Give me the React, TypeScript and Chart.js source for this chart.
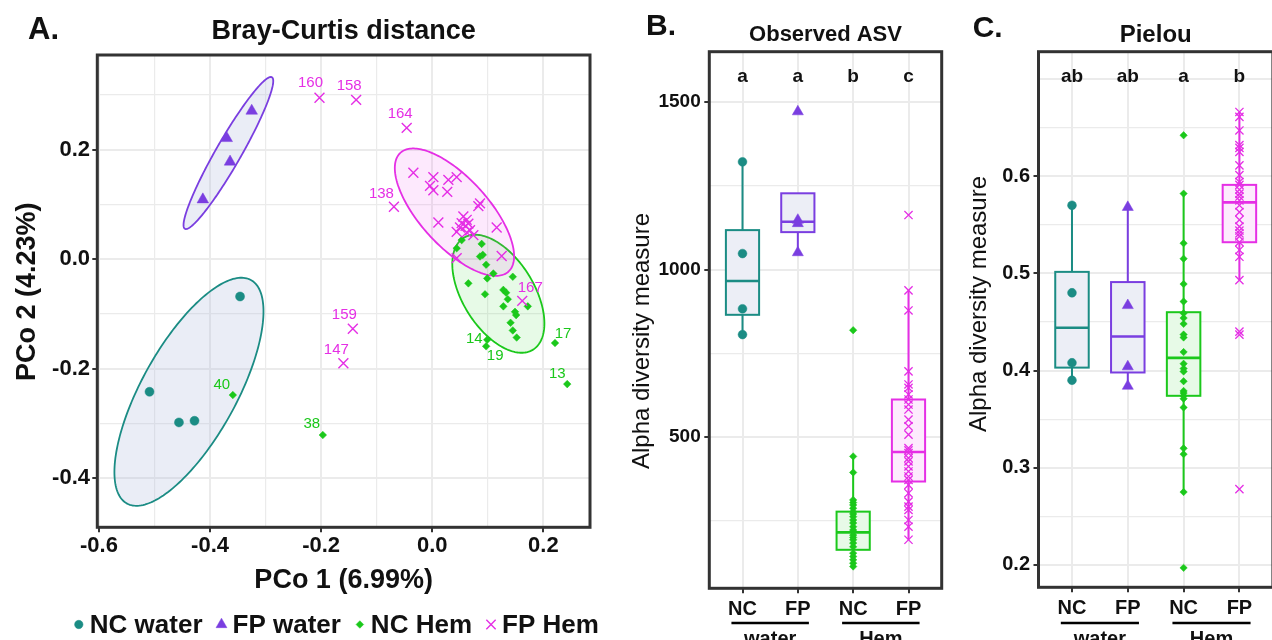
import React, { useEffect, useRef } from 'react';
import { Chart, registerables } from 'chart.js';
import { drawPoint } from 'chart.js/helpers';

Chart.register(...registerables);

const FONT = '"Liberation Sans", Arial, Helvetica, sans-serif';
const INK = '#111111';

// ---------------- groups ----------------
const groupNames = ['NC water', 'FP water', 'NC Hem', 'FP Hem'];
const groupTickLabels = ['NC', 'FP', 'NC', 'FP'];
const habitatNames = ['water', 'Hem'];
const groupColors = ['#1b8c84', '#7a3ee0', '#1bc81b', '#e52fe5'];
const groupShapes = ['circle', 'triangle', 'rectRot', 'crossRot'];

// ---------------- A: Bray-Curtis PCoA ----------------
const pcoXRange = [-0.603, 0.284];
const pcoYRange = [-0.4895, 0.373];

const pco1NcWater = [-0.346, -0.509, -0.456, -0.428];
const pco2NcWater = [-0.068, -0.242, -0.298, -0.295];
const idNcWater = ['', '', '', ''];

const pco1FpWater = [-0.325, -0.37, -0.364, -0.413];
const pco2FpWater = [0.271, 0.221, 0.178, 0.109];
const idFpWater = ['', '', '', ''];

const pco1NcHem = [0.044, 0.053, 0.089, 0.086, 0.091, 0.097, 0.11, 0.099, 0.065, 0.145, 0.128, 0.133, 0.136, 0.095, 0.128, 0.149, 0.151, 0.172, 0.141, 0.145, 0.152, 0.099, 0.097, 0.221, 0.243, -0.359, -0.197];
const pco2NcHem = [0.02, 0.035, 0.028, 0.005, 0.008, -0.01, -0.026, -0.035, -0.044, -0.032, -0.056, -0.061, -0.073, -0.064, -0.086, -0.096, -0.102, -0.086, -0.116, -0.13, -0.143, -0.147, -0.159, -0.153, -0.228, -0.248, -0.321];
const idNcHem = ['', '', '', '', '', '', '', '', '', '', '', '', '', '', '', '', '', '', '', '', '', '14', '19', '17', '13', '40', '38'];

const pco1FpHem = [-0.203, -0.137, -0.046, -0.069, -0.143, -0.16, 0.162, -0.034, 0.002, -0.004, 0.002, 0.029, 0.044, 0.027, 0.086, 0.083, 0.011, 0.056, 0.062, 0.053, 0.06, 0.044, 0.068, 0.062, 0.074, 0.116, 0.125, 0.044, 0.05, 0.065];
const pco2FpHem = [0.295, 0.291, 0.24, 0.096, -0.127, -0.19, -0.076, 0.158, 0.15, 0.134, 0.126, 0.145, 0.15, 0.123, 0.102, 0.097, 0.067, 0.078, 0.072, 0.066, 0.061, 0.05, 0.053, 0.049, 0.044, 0.058, 0.006, 0.002, 0.058, 0.065];
const idFpHem = ['160', '158', '164', '138', '159', '147', '167', '', '', '', '', '', '', '', '', '', '', '', '', '', '', '', '', '', '', '', '', '', '', ''];

// 95% ellipses (centre, semi-axes in axis units, angle in degrees)
const ellipseCenterX = [-0.438, -0.367, 0.119, 0.04];
const ellipseCenterY = [-0.242, 0.194, -0.063, 0.086];
const ellipseSemiMajor = [0.2326, 0.159, 0.1197, 0.1457];
const ellipseSemiMinor = [0.0853, 0.0227, 0.0645, 0.0619];
const ellipseAngleDeg = [61.4, 60.5, -58.9, -48.3];

// ---------------- B: Observed ASV ----------------
const asvRange = [48, 1651];
const asvNcWater = [1322, 1048, 883, 806];
const asvFpWater = [1472, 1148, 1138, 1051];
const asvNcHem = [819, 442, 394, 312, 304, 297, 287, 277, 270, 262, 252, 243, 232, 222, 217, 207, 200, 193, 183, 172, 153, 143, 133, 123, 113];
const asvFpHem = [1163, 938, 878, 696, 657, 647, 627, 612, 597, 582, 552, 532, 507, 467, 460, 452, 437, 427, 412, 397, 382, 372, 357, 332, 307, 292, 282, 252, 232, 193];
const asvQ1 = [865, 1112, 163, 367];
const asvMedian = [966, 1143, 215, 455];
const asvQ3 = [1118, 1228, 277, 612];
const asvWhiskerLow = [806, 1051, 113, 193];
const asvWhiskerHigh = [1322, 1148, 442, 938];
const asvLetters = ['a', 'a', 'b', 'c'];
const asvLetterLevel = 1575;

// ---------------- C: Pielou ----------------
const pielouRange = [0.177, 0.728];
const pielouNcWater = [0.57, 0.48, 0.408, 0.39];
const pielouFpWater = [0.568, 0.467, 0.404, 0.384];
const pielouNcHem = [0.642, 0.582, 0.531, 0.515, 0.489, 0.471, 0.459, 0.454, 0.448, 0.437, 0.434, 0.419, 0.407, 0.402, 0.399, 0.389, 0.379, 0.377, 0.374, 0.371, 0.362, 0.32, 0.314, 0.275, 0.197];
const pielouFpHem = [0.666, 0.661, 0.647, 0.632, 0.629, 0.625, 0.611, 0.601, 0.594, 0.591, 0.586, 0.582, 0.579, 0.575, 0.57, 0.563, 0.555, 0.548, 0.544, 0.541, 0.538, 0.532, 0.524, 0.517, 0.493, 0.44, 0.437, 0.278];
const pielouQ1 = [0.403, 0.398, 0.374, 0.532];
const pielouMedian = [0.444, 0.435, 0.413, 0.573];
const pielouQ3 = [0.5015, 0.491, 0.46, 0.591];
const pielouWhiskerLow = [0.39, 0.384, 0.275, 0.493];
const pielouWhiskerHigh = [0.57, 0.568, 0.582, 0.666];
const pielouLetters = ['ab', 'ab', 'a', 'b'];
const pielouLetterLevel = 0.702;

// ---------------- styling ----------------
const pcoPointRadius = [4.5, 6.7, 3.8, 7];
const boxPointRadius = [4.4, 6.4, 3.7, 5.8];
const legendRadius = [4.2, 6.3, 3.8, 6.6];
const ellipseFills = ['rgba(180,190,222,0.28)', 'rgba(180,190,222,0.28)', 'rgba(40,210,40,0.11)', 'rgba(236,70,236,0.12)'];
const boxFills = ['rgba(180,190,222,0.26)', 'rgba(180,190,222,0.26)', 'rgba(40,210,40,0.11)', 'rgba(236,70,236,0.11)'];
const sampleLabelOffset: Record<string, [number, number]> = {
  '160': [-9, -15], '158': [-7, -14], '164': [-6.5, -14], '138': [-12.5, -13],
  '159': [-8.5, -14], '147': [-7, -13], '167': [8, -13],
  '40': [-11, -10], '38': [-11, -11], '14': [-13, -1], '19': [9, 10], '17': [8, -9], '13': [-10, -10],
};

function drawText(ctx: CanvasRenderingContext2D, s: string, x: number, y: number, font: string, color: string,
  align: CanvasTextAlign = 'center', baseline: CanvasTextBaseline = 'alphabetic', rot = 0) {
  ctx.save();
  ctx.font = font;
  ctx.fillStyle = color;
  ctx.textAlign = align;
  ctx.textBaseline = baseline;
  ctx.translate(x, y);
  if (rot) ctx.rotate(rot);
  ctx.fillText(s, 0, 0);
  ctx.restore();
}

const near = (v: number, step: number) => Math.abs(v / step - Math.round(v / step)) < 1e-6;

function linearAxis(o: {
  min: number; max: number; step: number; size: number; horizontal: boolean;
  majorGrid: (v: number) => boolean; labelled: (v: number) => boolean; fmt: (v: number) => string;
  fontSize: number; pad: number;
}) {
  return {
    type: 'linear',
    min: o.min,
    max: o.max,
    afterFit: (s: any) => {
      if (o.horizontal) s.height = o.size; else s.width = o.size;
    },
    border: { display: false },
    grid: {
      color: '#ebebeb',
      lineWidth: (c: any) => (c.tick && o.majorGrid(c.tick.value) ? 2 : 1.2),
      tickColor: (c: any) => (c.tick && o.labelled(c.tick.value) ? '#333333' : 'rgba(0,0,0,0)'),
      tickLength: 5,
      tickWidth: 2,
    },
    ticks: {
      stepSize: o.step,
      includeBounds: false,
      autoSkip: false,
      maxRotation: 0,
      minRotation: 0,
      padding: o.pad,
      color: INK,
      font: { family: FONT, size: o.fontSize, weight: 'bold' },
      callback: (v: any) => (o.labelled(Number(v)) ? o.fmt(Number(v)) : ''),
    },
  };
}

function drawFrame(chart: any) {
  const { ctx, chartArea: a } = chart;
  ctx.save();
  ctx.strokeStyle = '#333333';
  ctx.lineWidth = 3;
  ctx.strokeRect(a.left, a.top, a.right - a.left, a.bottom - a.top);
  ctx.restore();
}

// ---------------- Panel A ----------------
function pcoaConfig() {
  const xs = [pco1NcWater, pco1FpWater, pco1NcHem, pco1FpHem];
  const ys = [pco2NcWater, pco2FpWater, pco2NcHem, pco2FpHem];
  const ids = [idNcWater, idFpWater, idNcHem, idFpHem];
  const datasets = groupNames.map((name, g) => ({
    label: name,
    data: xs[g].map((x, k) => ({ x, y: ys[g][k] })),
    pointStyle: groupShapes[g],
    pointRadius: pcoPointRadius[g],
    backgroundColor: groupColors[g],
    borderColor: groupColors[g],
    borderWidth: g === 3 ? 1.4 : 0.5,
    order: 3 - g,
    showLine: false,
  }));
  const plugin = {
    id: 'pcoaExtras',
    beforeDatasetsDraw(chart: any) {
      const { ctx, chartArea: a } = chart;
      const sx = chart.scales.x;
      const sy = chart.scales.y;
      ctx.save();
      ctx.beginPath();
      ctx.rect(a.left, a.top, a.right - a.left, a.bottom - a.top);
      ctx.clip();
      for (let g = 0; g < 4; g++) {
        const th = (ellipseAngleDeg[g] * Math.PI) / 180;
        ctx.beginPath();
        for (let k = 0; k <= 200; k++) {
          const t = (k / 200) * Math.PI * 2;
          const u = ellipseSemiMajor[g] * Math.cos(t);
          const w = ellipseSemiMinor[g] * Math.sin(t);
          const vx = ellipseCenterX[g] + u * Math.cos(th) - w * Math.sin(th);
          const vy = ellipseCenterY[g] + u * Math.sin(th) + w * Math.cos(th);
          const px = sx.getPixelForValue(vx);
          const py = sy.getPixelForValue(vy);
          if (k === 0) ctx.moveTo(px, py); else ctx.lineTo(px, py);
        }
        ctx.closePath();
        ctx.fillStyle = ellipseFills[g];
        ctx.fill();
        ctx.strokeStyle = groupColors[g];
        ctx.lineWidth = 1.8;
        ctx.stroke();
      }
      ctx.restore();
    },
    afterDatasetsDraw(chart: any) {
      const { ctx } = chart;
      const sx = chart.scales.x;
      const sy = chart.scales.y;
      for (let g = 0; g < 4; g++) {
        ids[g].forEach((id, k) => {
          if (!id) return;
          const off = sampleLabelOffset[id] || [0, -12];
          drawText(ctx, id, sx.getPixelForValue(xs[g][k]) + off[0], sy.getPixelForValue(ys[g][k]) + off[1],
            `15px ${FONT}`, groupColors[g], 'center', 'middle');
        });
      }
      drawFrame(chart);
    },
    afterDraw(chart: any) {
      const { ctx, chartArea: a } = chart;
      const mid = (a.left + a.right) / 2;
      drawText(ctx, 'A.', 28, 39, `bold 31px ${FONT}`, INK, 'left');
      drawText(ctx, 'Bray-Curtis distance', mid, 38.5, `bold 27px ${FONT}`, INK);
      drawText(ctx, 'PCo 1 (6.99%)', mid, 588, `bold 27px ${FONT}`, INK);
      drawText(ctx, 'PCo 2 (4.23%)', 35, 291.7, `bold 27px ${FONT}`, INK, 'center', 'alphabetic', -Math.PI / 2);
      // legend
      ctx.save();
      ctx.font = `bold 26px ${FONT}`;
      const gapMarker = 11;
      const gapItem = 19;
      const widths = groupNames.map((n) => ctx.measureText(n).width);
      const total = widths.reduce((s, w) => s + gapMarker + w, 0) + gapItem * 3;
      let x = 338.8 - total / 2;
      for (let g = 0; g < 4; g++) {
        ctx.fillStyle = groupColors[g];
        ctx.strokeStyle = groupColors[g];
        ctx.lineWidth = g === 3 ? 1.4 : 0.5;
        drawPoint(ctx, { pointStyle: groupShapes[g] as any, radius: legendRadius[g], rotation: 0, borderWidth: ctx.lineWidth } as any, x, 624.5);
        drawText(ctx, groupNames[g], x + gapMarker, 633, `bold 26px ${FONT}`, INK, 'left');
        x += gapMarker + widths[g] + gapItem;
      }
      ctx.restore();
    },
  };
  const fifth = (v: number) => near(v, 0.2);
  const fmt = (v: number) => (Math.abs(v) < 1e-9 ? '0.0' : v.toFixed(1));
  return {
    type: 'scatter',
    data: { datasets },
    options: {
      animation: false,
      responsive: false,
      maintainAspectRatio: false,
      events: [],
      layout: { padding: { left: 0, top: 55, right: 30, bottom: 0 } },
      plugins: { legend: { display: false }, tooltip: { enabled: false }, title: { display: false } },
      scales: {
        x: linearAxis({ min: pcoXRange[0], max: pcoXRange[1], step: 0.1, size: 112.7, horizontal: true, majorGrid: fifth, labelled: fifth, fmt, fontSize: 22, pad: 0 }),
        y: linearAxis({ min: pcoYRange[0], max: pcoYRange[1], step: 0.1, size: 97.3, horizontal: false, majorGrid: fifth, labelled: fifth, fmt, fontSize: 22, pad: 2.3 }),
      },
    },
    plugins: [plugin],
  };
}

// ---------------- Panels B & C ----------------
function boxConfig(o: {
  canvasLeft: number; values: number[][]; q1: number[]; med: number[]; q3: number[]; lo: number[]; hi: number[];
  letters: string[]; letterLevel: number; range: number[]; step: number;
  majorGrid: (v: number) => boolean; labelled: (v: number) => boolean; fmt: (v: number) => string;
  yWidth: number; xHeight: number; padTop: number; padRight: number; yFont: number; yPad: number; xPad: number;
  tag: string; tagX: number; tagBase: number; title: string; titleSize: number; titleBase: number;
  yTitleX: number; yTitleY: number;
}) {
  const L = o.canvasLeft;
  const datasets = groupNames.map((name, g) => ({
    label: name,
    data: o.values[g].map((v) => ({ x: g + 1, y: v })),
    pointStyle: groupShapes[g],
    pointRadius: boxPointRadius[g],
    backgroundColor: groupColors[g],
    borderColor: groupColors[g],
    borderWidth: g === 3 ? 1.3 : 0.5,
    order: 3 - g,
    showLine: false,
  }));
  const boxHalf = 0.3;
  const plugin = {
    id: 'boxExtras',
    beforeDatasetsDraw(chart: any) {
      const { ctx } = chart;
      const sx = chart.scales.x;
      const sy = chart.scales.y;
      ctx.save();
      for (let g = 0; g < 4; g++) {
        const xc = sx.getPixelForValue(g + 1);
        const xl = sx.getPixelForValue(g + 1 - boxHalf);
        const xr = sx.getPixelForValue(g + 1 + boxHalf);
        const y1 = sy.getPixelForValue(o.q1[g]);
        const y3 = sy.getPixelForValue(o.q3[g]);
        const ym = sy.getPixelForValue(o.med[g]);
        ctx.strokeStyle = groupColors[g];
        ctx.lineWidth = 2;
        ctx.beginPath();
        if (o.hi[g] > o.q3[g]) { ctx.moveTo(xc, y3); ctx.lineTo(xc, sy.getPixelForValue(o.hi[g])); }
        if (o.lo[g] < o.q1[g]) { ctx.moveTo(xc, y1); ctx.lineTo(xc, sy.getPixelForValue(o.lo[g])); }
        ctx.stroke();
        ctx.fillStyle = '#ffffff';
        ctx.fillRect(xl, y3, xr - xl, y1 - y3);
        ctx.fillStyle = boxFills[g];
        ctx.fillRect(xl, y3, xr - xl, y1 - y3);
        ctx.strokeRect(xl, y3, xr - xl, y1 - y3);
        ctx.lineWidth = 2.6;
        ctx.beginPath();
        ctx.moveTo(xl, ym);
        ctx.lineTo(xr, ym);
        ctx.stroke();
      }
      ctx.restore();
    },
    afterDatasetsDraw(chart: any) {
      const { ctx } = chart;
      const sx = chart.scales.x;
      const sy = chart.scales.y;
      o.letters.forEach((s, g) => {
        drawText(ctx, s, sx.getPixelForValue(g + 1), sy.getPixelForValue(o.letterLevel), `bold 19px ${FONT}`, INK, 'center', 'middle');
      });
      drawFrame(chart);
    },
    afterDraw(chart: any) {
      const { ctx, chartArea: a } = chart;
      const sx = chart.scales.x;
      drawText(ctx, o.tag, o.tagX - L, o.tagBase, `bold 30px ${FONT}`, INK, 'left');
      drawText(ctx, o.title, (a.left + a.right) / 2, o.titleBase, `bold ${o.titleSize}px ${FONT}`, INK);
      drawText(ctx, 'Alpha diversity measure', o.yTitleX - L, o.yTitleY, `24px ${FONT}`, INK, 'center', 'alphabetic', -Math.PI / 2);
      ctx.save();
      ctx.strokeStyle = '#000000';
      ctx.lineWidth = 2.5;
      habitatNames.forEach((h, k) => {
        const c1 = 2 * k + 1;
        const c2 = 2 * k + 2;
        ctx.beginPath();
        ctx.moveTo(sx.getPixelForValue(c1 - 0.2), 623);
        ctx.lineTo(sx.getPixelForValue(c2 + 0.2), 623);
        ctx.stroke();
        drawText(ctx, h, sx.getPixelForValue((c1 + c2) / 2), 645, `bold 20px ${FONT}`, INK);
      });
      ctx.restore();
    },
  };
  const all = () => true;
  return {
    type: 'scatter',
    data: { datasets },
    options: {
      animation: false,
      responsive: false,
      maintainAspectRatio: false,
      events: [],
      layout: { padding: { left: 0, top: o.padTop, right: o.padRight, bottom: 0 } },
      plugins: { legend: { display: false }, tooltip: { enabled: false }, title: { display: false } },
      scales: {
        x: linearAxis({ min: 0.4, max: 4.6, step: 1, size: o.xHeight, horizontal: true, majorGrid: all, labelled: all,
          fmt: (v) => groupTickLabels[Math.round(v) - 1] || '', fontSize: 20, pad: o.xPad }),
        y: linearAxis({ min: o.range[0], max: o.range[1], step: o.step, size: o.yWidth, horizontal: false, majorGrid: o.majorGrid,
          labelled: o.labelled, fmt: o.fmt, fontSize: o.yFont, pad: o.yPad }),
      },
    },
    plugins: [plugin],
  };
}

function asvConfig() {
  const major = (v: number) => near(v, 500);
  return boxConfig({
    canvasLeft: 600,
    values: [asvNcWater, asvFpWater, asvNcHem, asvFpHem],
    q1: asvQ1, med: asvMedian, q3: asvQ3, lo: asvWhiskerLow, hi: asvWhiskerHigh,
    letters: asvLetters, letterLevel: asvLetterLevel, range: asvRange, step: 250,
    majorGrid: major, labelled: major, fmt: (v) => String(Math.round(v)),
    yWidth: 109.3, xHeight: 51.7, padTop: 51.7, padRight: 8.3, yFont: 19, yPad: 3.6, xPad: 4,
    tag: 'B.', tagX: 646, tagBase: 35, title: 'Observed ASV', titleSize: 22, titleBase: 41,
    yTitleX: 649, yTitleY: 341,
  });
}

function pielouConfig() {
  const major = (v: number) => near(v, 0.1);
  const labelled = (v: number) => major(v) && v < 0.65;
  return boxConfig({
    canvasLeft: 950,
    values: [pielouNcWater, pielouFpWater, pielouNcHem, pielouFpHem],
    q1: pielouQ1, med: pielouMedian, q3: pielouQ3, lo: pielouWhiskerLow, hi: pielouWhiskerHigh,
    letters: pielouLetters, letterLevel: pielouLetterLevel, range: pielouRange, step: 0.05,
    majorGrid: major, labelled, fmt: (v) => v.toFixed(1),
    yWidth: 88.5, xHeight: 52.7, padTop: 51.7, padRight: 4, yFont: 20, yPad: 3.5, xPad: 4.5,
    tag: 'C.', tagX: 972.7, tagBase: 36.5, title: 'Pielou', titleSize: 24, titleBase: 42,
    yTitleX: 986, yTitleY: 304,
  });
}

function ChartCanvas({ left, width, make }: { left: number; width: number; make: () => any }) {
  const ref = useRef<HTMLCanvasElement>(null);
  useEffect(() => {
    if (!ref.current) return;
    const chart = new Chart(ref.current, make());
    return () => chart.destroy();
  }, []);
  return (
    <canvas
      ref={ref}
      width={width}
      height={640}
      style={{ position: 'absolute', left, top: 0, width, height: 640 }}
    />
  );
}

export default function App() {
  return (
    <div
      style={{
        position: 'fixed',
        left: 0,
        top: 0,
        width: 1272,
        height: 640,
        overflow: 'hidden',
        background: '#ffffff',
      }}
    >
      <ChartCanvas left={0} width={620} make={pcoaConfig} />
      <ChartCanvas left={600} width={350} make={asvConfig} />
      <ChartCanvas left={950} width={330} make={pielouConfig} />
    </div>
  );
}
